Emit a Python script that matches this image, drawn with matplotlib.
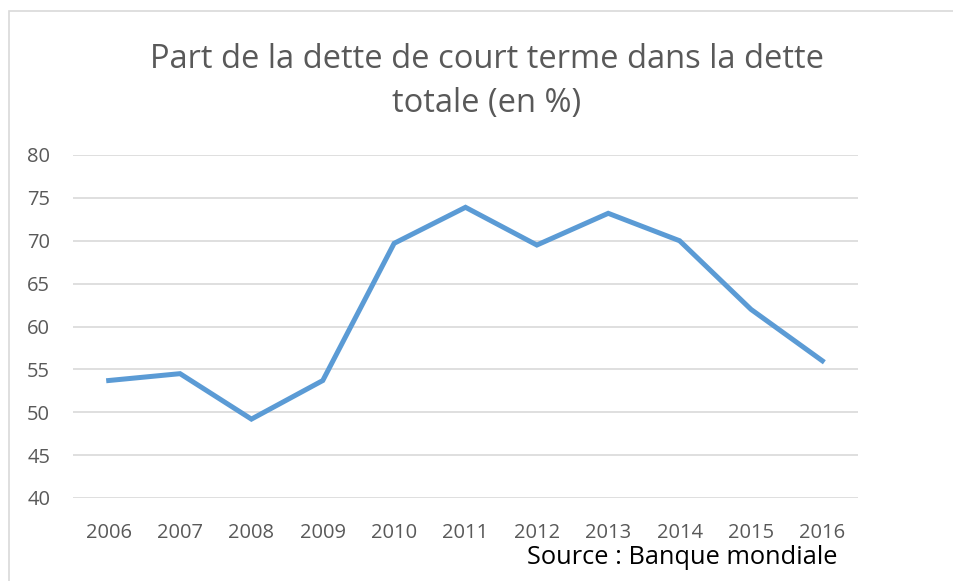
import matplotlib.pyplot as plt
from matplotlib.patches import Rectangle

years = ['2006', '2007', '2008', '2009', '2010', '2011', '2012', '2013', '2014', '2015', '2016']
share = [53.7, 54.5, 49.2, 53.7, 69.7, 73.9, 69.5, 73.2, 70.0, 62.0, 56.0]
y_ticks = [40, 45, 50, 55, 60, 65, 70, 75, 80]

plt.rcParams['font.family'] = ['Open Sans', 'DejaVu Sans']

fig = plt.figure(figsize=(9.54, 5.81), dpi=100)
ax = fig.add_axes([73 / 954, 83 / 581, 785 / 954, 343 / 581])

# light frame of the chart area, cropped on right and bottom
fig.patches.append(Rectangle((9 / 954, -0.1), 1.2, (581 - 11) / 581 + 0.1,
                             transform=fig.transFigure, fill=False,
                             edgecolor='#d9d9d9', linewidth=1.2))

x = range(len(years))
ax.plot(x, share, color='#5b9bd5', linewidth=3.6, solid_joinstyle='miter', zorder=3)

ax.set_xlim(-0.5, len(years) - 0.5)
ax.set_ylim(40, 80)
ax.set_yticks(y_ticks)
ax.set_xticks(list(x))
ax.set_xticklabels(years)
ax.grid(axis='y', color='#d9d9d9', linewidth=1.2)
ax.set_axisbelow(True)
for s in ax.spines.values():
    s.set_visible(False)
ax.tick_params(length=0, labelsize=14.5, colors='#595959')
ax.tick_params(axis='x', pad=18)
ax.tick_params(axis='y', pad=33)
for lbl in ax.get_yticklabels():
    lbl.set_horizontalalignment('left')

fig.text(487 / 954, 1 - 59 / 581, 'Part de la dette de court terme dans la dette',
         ha='center', va='center', fontsize=23.5, color='#595959')
fig.text(487 / 954, 1 - 104 / 581, 'totale (en %)',
         ha='center', va='center', fontsize=23.5, color='#595959')
fig.text(838 / 954, 1 - 557 / 581, 'Source : Banque mondiale',
         ha='right', va='center', fontsize=18.3, color='black')

fig.savefig('out.png', dpi=100)
